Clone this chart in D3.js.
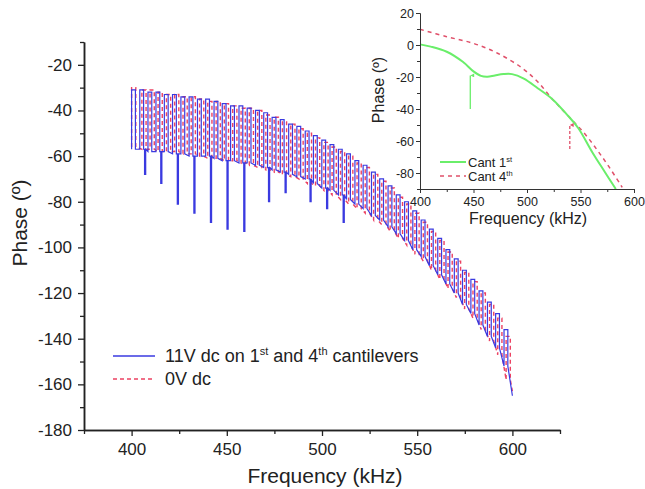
<!DOCTYPE html>
<html>
<head>
<meta charset="utf-8">
<script src="https://cdn.jsdelivr.net/npm/d3@7"></script>
<style>
  body { margin: 0; background: #fff; }
  svg { display: block; font-family: "Liberation Sans", Arial, sans-serif; }
</style>
</head>
<body>
<svg width="645" height="489"></svg>
<script>
// main plot data: square-wave pulses, one entry per pulse
var blueRise = [400, 404.3, 408.6, 412.8, 417.2, 421.5, 425.9, 430.2, 434.6, 438.9, 443.3, 447.6, 452.0, 456.4, 460.7, 465.1, 469.4, 473.8, 478.1, 482.5, 486.8, 491.2, 495.5, 499.9, 504.2, 508.6, 512.9, 517.3, 521.6, 526.0, 530.3, 534.7, 539.0, 543.4, 547.7, 552.1, 556.4, 560.8, 565.1, 569.5, 573.8, 578.2, 582.5, 586.9, 591.2, 595.6];
var blueTop = [-31, -31, -32, -32, -33, -33, -34, -34, -35, -35, -36, -37, -38, -38, -39, -40, -41, -43, -44, -46, -47, -49, -51, -53, -55, -57, -59, -62, -64, -67, -70, -73, -77, -80, -84, -88, -92, -96, -101, -105, -110, -114, -119, -124, -129, -136];
var blueBottom = [-57, -57, -58, -58, -58, -59, -59, -60, -60, -60, -61, -62, -62, -63, -63, -64, -65, -66, -67, -68, -69, -70, -72, -74, -75, -77, -79, -81, -83, -86, -88, -91, -94, -97, -101, -104, -108, -112, -116, -120, -125, -129, -134, -139, -144, -152];
var blueSpike = [0, -68, 0, -72, 0, -81, 0, -85, 0, -89, 0, -92, 0, -93, 0, 0, -80, 0, -76, 0, 0, -80, 0, -83, 0, -89, 0, 0, 0, 0, 0, 0, 0, 0, 0, 0, 0, 0, 0, 0, 0, 0, 0, 0, 0, 0];
var blueEnd = [600, -165];

var redRise = [400, 405.4, 409.7, 413.9, 418.3, 422.6, 427.0, 431.3, 435.7, 440.0, 444.4, 448.7, 453.1, 457.5, 461.8, 466.2, 470.5, 474.9, 479.2, 483.6, 487.9, 492.3, 496.6, 501.0, 505.3, 509.7, 514.0, 518.4, 522.7, 527.1, 531.4, 535.8, 540.1, 544.5, 548.8, 553.2, 557.5, 561.9, 566.2, 570.6, 574.9, 579.3, 583.6, 588.0, 592.3, 596.7];
var redTop = [-30, -31, -31, -32, -33, -33, -34, -34, -35, -36, -36, -37, -38, -39, -39, -40, -42, -43, -45, -46, -48, -50, -52, -54, -56, -58, -60, -63, -65, -68, -71, -74, -78, -81, -85, -89, -93, -97, -102, -106, -111, -115, -120, -125, -131, -139];
var redBottom = [-56, -57, -57, -58, -58, -58, -59, -59, -60, -61, -61, -62, -62, -63, -64, -65, -66, -67, -68, -69, -70, -72, -73, -75, -77, -79, -81, -83, -85, -88, -90, -93, -96, -99, -103, -106, -110, -114, -118, -122, -127, -131, -136, -141, -147, -158];
var redEnd = [600, -163];

var mainXTicks = [400, 450, 500, 550, 600];
var mainXMinor = [375, 425, 475, 525, 575, 625];
var mainYTicks = [-20, -40, -60, -80, -100, -120, -140, -160, -180];
var mainYMinor = [-10, -30, -50, -70, -90, -110, -130, -150, -170];

// inset data
var cant1Freq = [400, 410, 425, 440, 450, 457, 463, 470, 478, 486, 497, 510, 524, 538, 548, 561, 572, 583];
var cant1Phase = [0.4, -1, -4.2, -10.5, -16.5, -19.3, -19.8, -19, -18.2, -18.2, -21, -27, -34, -44, -52, -67, -78.6, -90];
var cant4Freq = [400, 425, 450, 473, 496, 510, 524, 538, 554, 566, 577, 589];
var cant4Phase = [9.8, 5.2, 1, -5.3, -14.7, -23, -34, -44, -55.5, -66, -76.5, -89];
var arrow1 = [447, -40, -19];
var arrow4 = [540, -65, -50];

var insetXTicks = [400, 450, 500, 550, 600];
var insetXMinor = [425, 475, 525, 575];
var insetYTicks = [20, 0, -20, -40, -60, -80];
var insetYMinor = [10, -10, -30, -50, -70, -90];

var svg = d3.select('svg');
var font = '"Liberation Sans", Arial, sans-serif';
var plain = d => String(d);   // hyphen minus, as in the figure

// main scales
var x = d3.scaleLinear().domain([375, 625]).range([84, 560]);
var y = d3.scaleLinear().domain([-180, -10]).range([430, 42]);

// build the step path of a pulse train
function pulsePoints(rise, top, bottom, spike, width, end) {
    var pts = [];
    for (var i = 0; i < rise.length; i++) {
        var f = rise[i];
        var fall = f + width;
        pts.push([f, bottom[i]]);
        pts.push([f, top[i]]);
        pts.push([fall, top[i]]);
        pts.push([fall, bottom[i]]);
        if (spike && spike[i]) {
            pts.push([fall + 0.5, bottom[i]]);
            pts.push([fall + 0.5, spike[i]]);
            pts.push([fall + 1.1, spike[i]]);
            pts.push([fall + 1.1, bottom[i]]);
        }
    }
    pts.push(end);
    return pts;
}

var line = d3.line().x(d => x(d[0])).y(d => y(d[1]));

svg.append('path')
    .attr('d', line(pulsePoints(redRise, redTop, redBottom, null, 2.2, redEnd)))
    .attr('fill', 'none')
    .attr('stroke', '#ec4262')
    .attr('stroke-width', 1.4)
    .attr('stroke-dasharray', '4,3');

svg.append('path')
    .attr('d', line(pulsePoints(blueRise, blueTop, blueBottom, blueSpike, 2.0, blueEnd)))
    .attr('fill', 'none')
    .attr('stroke', '#3a3ae0')
    .attr('stroke-width', 1.2);

// main axes
function styleAxis(g, size) {
    g.attr('font-size', size).attr('font-family', font);
    g.selectAll('.domain').attr('stroke', '#222').attr('stroke-width', 1.5);
    g.selectAll('.tick line').attr('stroke', '#222').attr('stroke-width', 1.3);
    g.selectAll('.tick text').attr('fill', '#222');
}

svg.append('g')
    .attr('transform', 'translate(0,430)')
    .call(d3.axisBottom(x).tickValues(mainXMinor).tickSize(4).tickFormat('').tickSizeOuter(0))
    .call(g => styleAxis(g, 17));
svg.append('g')
    .attr('transform', 'translate(0,430)')
    .call(d3.axisBottom(x).tickValues(mainXTicks).tickFormat(plain).tickSize(6).tickPadding(7).tickSizeOuter(0))
    .call(g => styleAxis(g, 17));

svg.append('g')
    .attr('transform', 'translate(84,0)')
    .call(d3.axisLeft(y).tickValues(mainYMinor).tickSize(4).tickFormat('').tickSizeOuter(0))
    .call(g => styleAxis(g, 17));
svg.append('g')
    .attr('transform', 'translate(84,0)')
    .call(d3.axisLeft(y).tickValues(mainYTicks).tickFormat(plain).tickSize(6).tickPadding(6).tickSizeOuter(0))
    .call(g => styleAxis(g, 17));

svg.append('text')
    .attr('x', 325)
    .attr('y', 483)
    .attr('text-anchor', 'middle')
    .attr('font-size', 21)
    .attr('fill', '#222')
    .text('Frequency (kHz)');

svg.append('text')
    .attr('transform', 'translate(27,223) rotate(-90)')
    .attr('text-anchor', 'middle')
    .attr('font-size', 21)
    .attr('fill', '#222')
    .text('Phase (º)');

// main legend
var legend = svg.append('g').attr('font-size', 18).attr('fill', '#222');
legend.append('line')
    .attr('x1', 113).attr('x2', 155).attr('y1', 356).attr('y2', 356)
    .attr('stroke', '#3a3ae0').attr('stroke-width', 1.6);
var t1 = legend.append('text').attr('x', 165).attr('y', 362);
t1.append('tspan').text('11V dc on 1');
t1.append('tspan').attr('font-size', 11).attr('dy', -7).text('st');
t1.append('tspan').attr('dy', 7).text(' and 4');
t1.append('tspan').attr('font-size', 11).attr('dy', -7).text('th');
t1.append('tspan').attr('dy', 7).text(' cantilevers');
legend.append('line')
    .attr('x1', 113).attr('x2', 155).attr('y1', 379).attr('y2', 379)
    .attr('stroke', '#ec4262').attr('stroke-width', 1.4).attr('stroke-dasharray', '4,3');
legend.append('text').attr('x', 165).attr('y', 385).text('0V dc');

// inset
var ix = d3.scaleLinear().domain([400, 600]).range([420, 634]);
var iy = d3.scaleLinear().domain([-90, 20]).range([189, 13]);
var inset = svg.append('g');

var iline = d3.line().x(d => ix(d[0])).y(d => iy(d[1])).curve(d3.curveCatmullRom.alpha(0.5));

inset.append('path')
    .attr('d', iline(cant4Freq.map((f, i) => [f, cant4Phase[i]])))
    .attr('fill', 'none')
    .attr('stroke', '#e0506a')
    .attr('stroke-width', 1.5)
    .attr('stroke-dasharray', '4,4');
inset.append('path')
    .attr('d', iline(cant1Freq.map((f, i) => [f, cant1Phase[i]])))
    .attr('fill', 'none')
    .attr('stroke', '#6aee6a')
    .attr('stroke-width', 2);

// arrows
var defs = svg.append('defs');
function arrowHead(id, color) {
    defs.append('marker')
        .attr('id', id)
        .attr('viewBox', '0 0 10 10')
        .attr('refX', 5).attr('refY', 0)
        .attr('markerWidth', 3).attr('markerHeight', 4)
        .attr('markerUnits', 'strokeWidth')
        .attr('orient', 'auto-start-reverse')
        .append('path')
        .attr('d', 'M0,10 L5,0 L10,10 Z')
        .attr('fill', color);
}
arrowHead('headGreen', '#6aee6a');
arrowHead('headRed', '#e0506a');

inset.append('line')
    .attr('x1', ix(arrow1[0])).attr('x2', ix(arrow1[0]))
    .attr('y1', iy(arrow1[1])).attr('y2', iy(arrow1[2]))
    .attr('stroke', '#6aee6a').attr('stroke-width', 1.3)
    .attr('marker-end', 'url(#headGreen)');
inset.append('line')
    .attr('x1', ix(arrow4[0])).attr('x2', ix(arrow4[0]))
    .attr('y1', iy(arrow4[1])).attr('y2', iy(arrow4[2]))
    .attr('stroke', '#e0506a').attr('stroke-width', 1.3)
    .attr('stroke-dasharray', '3,2')
    .attr('marker-end', 'url(#headRed)');

function styleInset(g) {
    g.attr('font-size', 12.5).attr('font-family', font);
    g.selectAll('.domain').attr('stroke', '#333').attr('stroke-width', 1);
    g.selectAll('.tick line').attr('stroke', '#333');
    g.selectAll('.tick text').attr('fill', '#222');
}

inset.append('g')
    .attr('transform', 'translate(0,189)')
    .call(d3.axisBottom(ix).tickValues(insetXMinor).tickSize(3).tickFormat('').tickSizeOuter(0))
    .call(styleInset);
inset.append('g')
    .attr('transform', 'translate(0,189)')
    .call(d3.axisBottom(ix).tickValues(insetXTicks).tickFormat(plain).tickSize(4).tickPadding(4).tickSizeOuter(0))
    .call(styleInset);
inset.append('g')
    .attr('transform', 'translate(420,0)')
    .call(d3.axisLeft(iy).tickValues(insetYMinor).tickSize(3).tickFormat('').tickSizeOuter(0))
    .call(styleInset);
inset.append('g')
    .attr('transform', 'translate(420,0)')
    .call(d3.axisLeft(iy).tickValues(insetYTicks).tickFormat(plain).tickSize(4).tickPadding(2).tickSizeOuter(0))
    .call(styleInset);

inset.append('text')
    .attr('x', 528).attr('y', 224)
    .attr('text-anchor', 'middle')
    .attr('font-size', 16).attr('fill', '#222')
    .text('Frequency (kHz)');
inset.append('text')
    .attr('transform', 'translate(384,90) rotate(-90)')
    .attr('text-anchor', 'middle')
    .attr('font-size', 16).attr('fill', '#222')
    .text('Phase (º)');

// inset legend
var il = inset.append('g').attr('font-size', 13).attr('fill', '#222');
il.append('line')
    .attr('x1', 440).attr('x2', 466).attr('y1', 162).attr('y2', 162)
    .attr('stroke', '#6aee6a').attr('stroke-width', 2);
var c1 = il.append('text').attr('x', 468).attr('y', 166.5);
c1.append('tspan').text('Cant 1');
c1.append('tspan').attr('font-size', 7.5).attr('dy', -5).text('st');
il.append('line')
    .attr('x1', 440).attr('x2', 466).attr('y1', 176).attr('y2', 176)
    .attr('stroke', '#e0506a').attr('stroke-width', 1.5).attr('stroke-dasharray', '4,4');
var c4 = il.append('text').attr('x', 468).attr('y', 180.5);
c4.append('tspan').text('Cant 4');
c4.append('tspan').attr('font-size', 7.5).attr('dy', -5).text('th');
</script>
</body>
</html>
